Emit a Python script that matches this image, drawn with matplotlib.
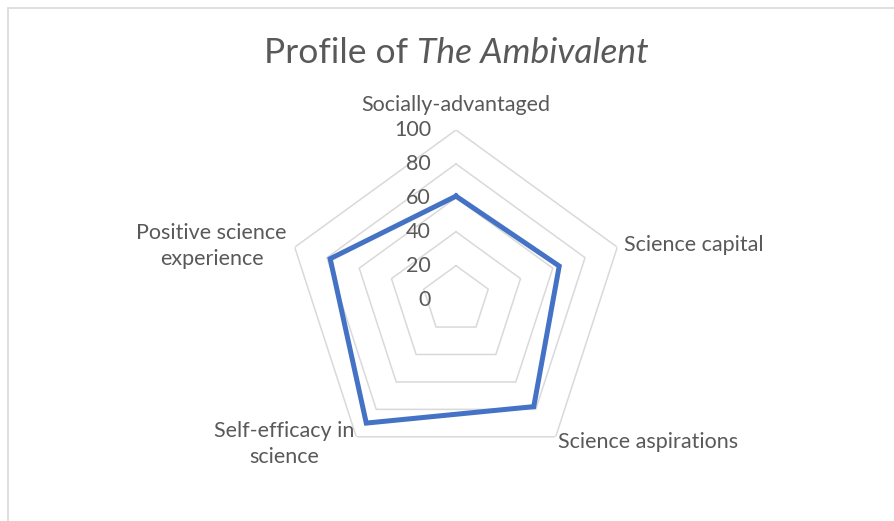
import numpy as np
import matplotlib
matplotlib.use("Agg")
import matplotlib.pyplot as plt
from matplotlib.patches import Rectangle

categories = ["Socially-advantaged", "Science capital", "Science aspirations",
              "Self-efficacy in\nscience", "Positive science\nexperience"]
values = [61, 64, 78, 90, 78]
rings = [20, 40, 60, 80, 100]
tick_labels = ["0", "20", "40", "60", "80", "100"]
tick_values = [0, 20, 40, 60, 80, 100]
title_plain = "Profile of "
title_italic = "The Ambivalent"

plt.rcParams['font.family'] = ['Lato', 'DejaVu Sans']
W, H = 895, 521
fig = plt.figure(figsize=(W / 100, H / 100), dpi=100)

cx, cy, R = 456, 521 - 299.6, 169.6
ax = fig.add_axes([(cx - R) / W, (cy - R) / H, 2 * R / W, 2 * R / H], projection='polar')
ax.set_theta_offset(np.pi / 2)
ax.set_theta_direction(-1)
ax.set_ylim(0, 100)
ax.grid(False)
ax.spines['polar'].set_visible(False)
ax.set_xticks([])
ax.set_yticks([])
ax.patch.set_alpha(0)

n = len(categories)
theta = np.arange(n) * 2 * np.pi / n
theta_c = np.append(theta, theta[0])

grid_col = "#D9D9D9"
for r in rings:
    ax.plot(theta_c, [r] * (n + 1), color=grid_col, lw=1.1, zorder=1)

vals_c = np.append(values, values[0])
ax.plot(theta_c, vals_c, color="#4472C4", lw=3.6, solid_joinstyle='miter', zorder=3)

txt_col = "#595959"
for tv, tl in zip(tick_values, tick_labels):
    ax.annotate(tl, xy=(0, tv), xytext=(-25, 0), textcoords='offset pixels',
                ha='right', va='center', fontsize=15.5, color=txt_col)

offsets = [(0, 19, 'center', 'baseline'), (7, 2, 'left', 'center'),
           (2, -5, 'left', 'center'), (-2, -7, 'right', 'center'),
           (-8, 1, 'right', 'center')]
for th, lab, (dx, dy, ha, va) in zip(theta, categories, offsets):
    ax.annotate(lab, xy=(th, 100), xytext=(dx, dy), textcoords='offset pixels',
                ha=ha, va=va, multialignment='center', fontsize=15.5,
                color=txt_col, linespacing=1.4, annotation_clip=False)

# Title with italic part
ty = 1 - 53 / H
t1 = fig.text(0.5, ty, title_plain, fontsize=25.5, color=txt_col,
              ha='right', va='center')
t2 = fig.text(0.5, ty, title_italic, fontsize=25.5, color=txt_col,
              style='italic', ha='left', va='center')
fig.canvas.draw()
w1 = t1.get_window_extent().width
w2 = t2.get_window_extent().width
left = 456 - (w1 + w2) / 2
t1.set_x((left + w1) / W)
t2.set_x((left + w1) / W)

fig.patches.append(Rectangle((8 / W, -0.1), 1.2, 1 - 8 / H + 0.1, transform=fig.transFigure,
                             fill=False, edgecolor=grid_col, lw=1.2))

fig.savefig("out.png", dpi=100)
